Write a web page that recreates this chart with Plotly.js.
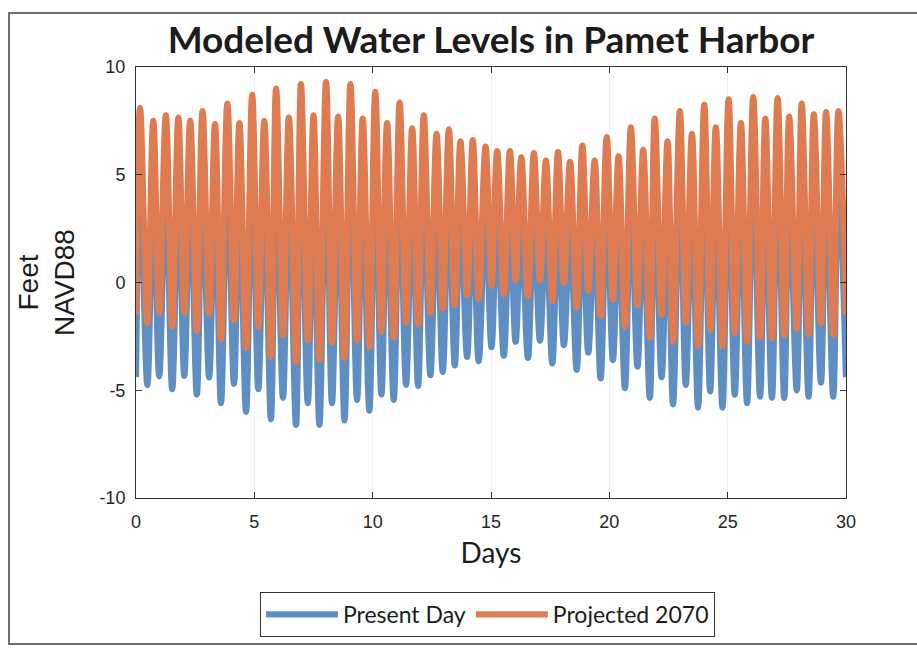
<!DOCTYPE html>
<html>
<head>
<meta charset="utf-8">
<script src="https://cdn.plot.ly/plotly-3.0.1.min.js"></script>
<style>
  html, body { margin: 0; padding: 0; background: #fff; overflow: hidden; }
  #frame { position: absolute; left: 8px; top: 12px; width: 940px; height: 633px;
           border: 2px solid #6e6e6e; box-sizing: border-box; }
  #chart { position: absolute; left: 0; top: 0; width: 917px; height: 650px; }
</style>
</head>
<body>
<div id="frame"></div>
<div id="chart"></div>
<script>
// Tide extremes at Pamet Harbor over a 30-day model run (feet, NAVD88).
// Times are in days; each high water is followed by the low water listed at the same index.

const seriesNames = ['Present Day', 'Projected 2070'];

const highTideDays = [
  0.17, 0.73, 1.26, 1.79, 2.29, 2.81, 3.34, 3.86, 4.37, 4.91,
  5.42, 5.92, 6.46, 6.97, 7.50, 8.03, 8.54, 9.06, 9.58, 10.11,
  10.61, 11.14, 11.67, 12.16, 12.70, 13.22, 13.71, 14.23, 14.77, 15.26,
  15.80, 16.28, 16.81, 17.32, 17.83, 18.34, 18.86, 19.38, 19.89, 20.39,
  20.91, 21.43, 21.92, 22.46, 22.98, 23.49, 24.01, 24.50, 25.04, 25.56,
  26.08, 26.59, 27.11, 27.60, 28.13, 28.64, 29.16, 29.68
];

const lowTideDays = [
  0.48, 0.98, 1.53, 2.04, 2.57, 3.09, 3.59, 4.14, 4.65, 5.17,
  5.70, 6.21, 6.76, 7.26, 7.75, 8.28, 8.81, 9.34, 9.86, 10.37,
  10.89, 11.41, 11.92, 12.44, 12.96, 13.47, 13.99, 14.48, 15.02, 15.54,
  16.04, 16.56, 17.07, 17.59, 18.08, 18.62, 19.11, 19.63, 20.15, 20.66,
  21.19, 21.71, 22.21, 22.69, 23.23, 23.75, 24.26, 24.78, 25.30, 25.82,
  26.37, 26.87, 27.39, 27.92, 28.42, 28.94, 29.46
];

// Run start and end
const runStartDay = 0;
const runEndDay = 30;

// Present Day water levels
const presentStart = -4.4;
const presentHigh = [
  5.2, 4.6, 4.85, 4.75, 4.6, 5.05, 4.45, 5.4, 4.5, 5.8,
  4.6, 6.1, 4.75, 6.3, 4.85, 6.4, 4.8, 6.3, 4.7, 5.95,
  4.5, 5.45, 4.25, 4.85, 4.0, 4.2, 3.65, 3.7, 3.4, 3.2,
  3.2, 2.9, 3.1, 2.75, 3.15, 2.7, 3.45, 2.75, 3.85, 2.95,
  4.3, 3.25, 4.7, 3.65, 5.05, 4.0, 5.35, 4.3, 5.6, 4.5,
  5.7, 4.7, 5.65, 4.8, 5.4, 4.9, 5.0, 5.05
];
const presentLow = [
  -4.75, -4.35, -4.95, -4.33, -5.2, -4.4, -5.6, -4.7, -6.0, -4.95,
  -6.35, -5.35, -6.6, -5.6, -6.6, -5.6, -6.4, -5.45, -5.95, -5.2,
  -5.45, -4.75, -4.8, -4.3, -4.15, -3.85, -3.45, -3.65, -3.0, -3.4,
  -2.75, -3.5, -2.7, -3.75, -2.9, -4.05, -3.25, -4.45, -3.6, -4.9,
  -3.9, -5.35, -4.4, -5.65, -4.75, -5.8, -5.05, -5.8, -5.2, -5.6,
  -5.3, -5.35, -5.35, -5.0, -5.3, -4.65, -5.3
];
const presentEnd = -4.4;

// Projected 2070 water levels
const projectedStart = -1.5;
const projectedHigh = [
  8.1, 7.5, 7.75, 7.65, 7.5, 7.95, 7.35, 8.3, 7.4, 8.7,
  7.5, 9.0, 7.65, 9.2, 7.75, 9.3, 7.7, 9.2, 7.6, 8.85,
  7.4, 8.35, 7.15, 7.75, 6.9, 7.1, 6.55, 6.6, 6.3, 6.1,
  6.1, 5.8, 6.0, 5.65, 6.05, 5.6, 6.35, 5.65, 6.75, 5.85,
  7.2, 6.15, 7.6, 6.55, 7.95, 6.9, 8.25, 7.2, 8.5, 7.4,
  8.6, 7.6, 8.55, 7.7, 8.3, 7.8, 7.9, 7.95
];
const projectedLow = [
  -1.9, -1.4, -2.05, -1.4, -2.25, -1.45, -2.65, -1.75, -3.05, -2.05,
  -3.45, -2.45, -3.7, -2.7, -3.6, -2.8, -3.5, -2.7, -3.0, -2.3,
  -2.55, -1.85, -1.95, -1.4, -1.2, -1.05, -0.6, -0.75, -0.15, -0.55,
  0.1, -0.65, 0.1, -0.85, 0.0, -1.15, -0.4, -1.55, -0.8, -2.05,
  -1.05, -2.55, -1.5, -2.75, -1.85, -2.95, -2.2, -2.95, -2.35, -2.75,
  -2.55, -2.6, -2.45, -2.15, -2.4, -1.9, -2.45
];
const projectedEnd = -1.5;

const xTickVals = [0, 5, 10, 15, 20, 25, 30];
const xTickText = ['0', '5', '10', '15', '20', '25', '30'];
const yTickVals = [-10, -5, 0, 5, 10];
const yTickText = ['-10', '-5', '0', '5', '10'];

// Interleave start, highs, lows and end into one time series
function tideSeries(start, highs, lows, end) {
  const x = [runStartDay], y = [start];
  for (let i = 0; i < highs.length; i++) {
    x.push(highTideDays[i]); y.push(highs[i]);
    if (i < lows.length) { x.push(lowTideDays[i]); y.push(lows[i]); }
  }
  x.push(runEndDay); y.push(end);
  return { x, y };
}

const present = tideSeries(presentStart, presentHigh, presentLow, presentEnd);
const projected = tideSeries(projectedStart, projectedHigh, projectedLow, projectedEnd);

const traces = [
  {
    name: seriesNames[0], x: present.x, y: present.y, type: 'scatter', mode: 'lines',
    line: { color: '#5f8fc2', width: 6.3, shape: 'spline', smoothing: 1 }
  },
  {
    name: seriesNames[1], x: projected.x, y: projected.y, type: 'scatter', mode: 'lines',
    line: { color: '#df7b50', width: 6.3, shape: 'spline', smoothing: 1 }
  }
];

const axisFont = { family: 'Liberation Sans', size: 18, color: '#262626' };

const layout = {
  width: 917, height: 650,
  margin: { l: 136, r: 71, t: 67, b: 152 },
  paper_bgcolor: 'rgba(0,0,0,0)',
  plot_bgcolor: '#ffffff',
  title: {
    text: 'Modeled Water Levels in Pamet Harbor',
    font: { family: 'Lato', size: 37, color: '#1c1c1c', weight: 'bold' },
    x: 0.5, xref: 'paper', xanchor: 'center',
    y: 1 - 40 / 650, yref: 'container', yanchor: 'middle'
  },
  xaxis: {
    range: [0, 30], tickvals: xTickVals, ticktext: xTickText,
    ticks: 'inside', ticklen: 6, tickcolor: '#333', ticklabelstandoff: 7,
    showline: true, linecolor: '#333', linewidth: 1, mirror: 'ticks',
    showgrid: true, gridcolor: '#f0f0f0', zeroline: false,
    tickfont: axisFont,
    title: { text: 'Days', font: { family: 'Lato', size: 28, color: '#1c1c1c' }, standoff: 12 }
  },
  yaxis: {
    range: [-10, 10], tickvals: yTickVals, ticktext: yTickText,
    ticks: 'inside', ticklen: 6, tickcolor: '#333', ticklabelstandoff: 6,
    showline: true, linecolor: '#333', linewidth: 1, mirror: 'ticks',
    showgrid: false, zeroline: false,
    tickfont: axisFont,
    title: { text: 'Feet<br>NAVD88', font: { family: 'Liberation Sans', size: 28, color: '#1c1c1c' }, standoff: 16 }
  },
  legend: {
    orientation: 'h', x: 0.495, xanchor: 'center', y: -0.218, yanchor: 'top',
    itemwidth: 72,
    bgcolor: '#ffffff', bordercolor: '#333', borderwidth: 1,
    font: { family: 'Lato', size: 23, color: '#1c1c1c' }
  },
  showlegend: true
};

Plotly.newPlot('chart', traces, layout, { staticPlot: true, displayModeBar: false });
</script>
</body>
</html>
